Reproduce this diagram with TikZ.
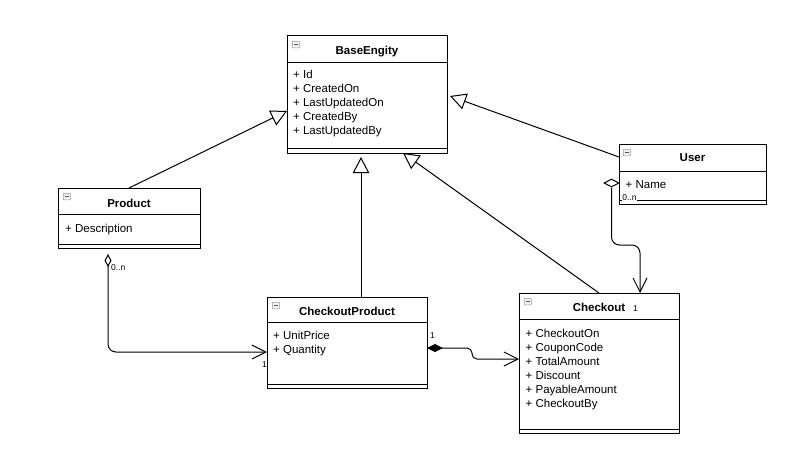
\documentclass[tikz,border=0pt]{standalone}
\usepackage{fontspec}
\setmainfont{Liberation Sans}
\usetikzlibrary{arrows.meta,shapes.geometric}
\newcommand\umlicon[2]{%
  \node[icon] (#1) at (#2) {};
  \draw[gray!70!black, line width=0.8pt] ([xshift=1.6pt]#1.west) -- ([xshift=-1.6pt]#1.east);}
\begin{document}
\begin{tikzpicture}[x=1pt,y=-1pt,
  cls/.style={draw, line width=1pt, fill=white, anchor=north west, inner sep=0pt, outer sep=0pt},
  sepline/.style={line width=1pt},
  ttl/.style={font=\fontsize{11.5}{13}\selectfont\bfseries, anchor=base, inner sep=0pt},
  attr/.style={font=\fontsize{11.5}{13}\selectfont, anchor=base west, inner sep=0pt},
  mult/.style={font=\fontsize{8.5}{10}\selectfont, anchor=base west, inner sep=0pt},
  gen/.style={line width=1pt, -{Triangle[open, length=16pt, width=16.5pt]}},
  assoc/.style={line width=1pt, -{Straight Barb[length=14pt, width=14pt]}},
  icon/.style={draw=gray!80, line width=0.6pt, fill=gray!10, minimum width=7pt, minimum height=6.5pt, inner sep=0pt, anchor=north west, rounded corners=0.5pt},
]
\fill[white] (0,0) rectangle (795,475);
\useasboundingbox (0,0) rectangle (795,475);

% ---------- BaseEngity ----------
\node[cls, minimum width=160pt, minimum height=118pt] (base) at (287,35) {};
\draw[sepline] (287,62) -- (447,62);
\draw[sepline] (287,148) -- (447,148);
\umlicon{baseicon}{292,41}
\node[ttl] (baset) at (367,54) {BaseEngity};
\node[attr] (ba1) at (293,78) {+ Id};
\node[attr] (ba2) at (293,92) {+ CreatedOn};
\node[attr] (ba3) at (293,106) {+ LastUpdatedOn};
\node[attr] (ba4) at (293,120) {+ CreatedBy};
\node[attr] (ba5) at (293,134) {+ LastUpdatedBy};

% ---------- Product ----------
\node[cls, minimum width=142pt, minimum height=60pt] (product) at (58,188) {};
\draw[sepline] (58,214) -- (200,214);
\draw[sepline] (58,244) -- (200,244);
\umlicon{producticon}{63,193}
\node[ttl] (productt) at (129,207) {Product};
\node[attr] (pa1) at (65,232.5) {+ Description};

% ---------- CheckoutProduct ----------
\node[cls, minimum width=160pt, minimum height=91pt] (cp) at (267,297) {};
\draw[sepline] (267,322) -- (427,322);
\draw[sepline] (267,384) -- (427,384);
\umlicon{cpicon}{272,302}
\node[ttl] (cpt) at (347,315) {CheckoutProduct};
\node[attr] (cpa1) at (273,339) {+ UnitPrice};
\node[attr] (cpa2) at (273,353) {+ Quantity};

% ---------- Checkout ----------
\node[cls, minimum width=160pt, minimum height=140pt] (checkout) at (519,293) {};
\draw[sepline] (519,319) -- (679,319);
\draw[sepline] (519,429) -- (679,429);
\umlicon{checkouticon}{524,298}
\node[ttl] (checkoutt) at (599,311) {Checkout};
\node[mult] (m1) at (633,311) {1};
\node[attr] (ca1) at (525.5,337) {+ CheckoutOn};
\node[attr] (ca2) at (525.5,351) {+ CouponCode};
\node[attr] (ca3) at (525.5,365) {+ TotalAmount};
\node[attr] (ca4) at (525.5,379) {+ Discount};
\node[attr] (ca5) at (525.5,393) {+ PayableAmount};
\node[attr] (ca6) at (525.5,407) {+ CheckoutBy};

% ---------- User ----------
\node[cls, minimum width=147pt, minimum height=60pt] (user) at (619,144) {};
\draw[sepline] (619,171) -- (766,171);
\draw[sepline] (619,200) -- (766,200);
\umlicon{usericon}{623,149}
\node[ttl] (usert) at (692.5,161.5) {User};
\node[attr] (ua1) at (625.5,188) {+ Name};
\node[mult, fill=white, inner sep=0.6pt, text depth=1pt] (m2) at (621.5,200) {0..n};

% ---------- generalisations ----------
\coordinate (g1) at (287,111);
\draw[gen] (product.north) -- (g1);
\coordinate (cpTop) at (361,297);
\coordinate (g2) at (361,157);
\draw[gen] (cpTop) -- (g2);
\coordinate (g3) at (403,153);
\draw[gen] (checkout.north) -- (g3);
\coordinate (uA) at (619,157);
\coordinate (g4) at (450,96);
\draw[gen] (uA) -- (g4);

% ---------- Product aggregation ----------
\coordinate (pAgg) at (108,254);
\coordinate (cpIn) at (267,352);
\draw[line width=1pt, rounded corners=8pt,
  {Diamond[open,length=13pt,width=7pt]}-{Straight Barb[length=14pt,width=14pt]}]
  (pAgg) -- (108,352) -- (cpIn);
\node[mult] (m3) at (111,270) {0..n};
\node[mult] (m4) at (262,367) {1};

% ---------- User aggregation ----------
\node[draw, line width=1pt, diamond, fill=white, minimum width=15pt, minimum height=8pt, inner sep=0pt] (ud) at (611.5,183) {};
\coordinate (coTop) at (640,293);
\draw[assoc, rounded corners=8pt] (ud.south) -- (ud.south |- 0,245) -- (640,245) -- (coTop);

% ---------- composition ----------
\coordinate (cpOut) at (427,348);
\coordinate (coIn) at (519,359);
\draw[line width=1pt, rounded corners=5pt,
  {Diamond[length=16pt,width=8pt]}-{Straight Barb[length=14pt,width=14pt]}]
  (cpOut) -- (472,348) -- (472,359) -- (coIn);
\node[mult] (m5) at (430,338) {1};
\end{tikzpicture}
\end{document}
